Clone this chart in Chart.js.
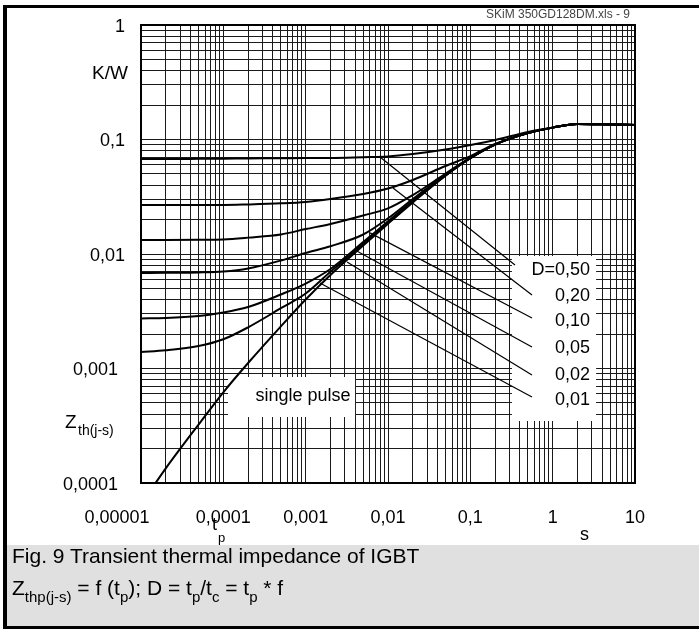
<!DOCTYPE html>
<html>
<head>
<meta charset="utf-8">
<script src="https://cdn.jsdelivr.net/npm/chart.js@4.4.0/dist/chart.umd.min.js"></script>
<style>
  html, body { margin: 0; padding: 0; background: #fff; }
  #wrap { position: relative; width: 699px; height: 629px; overflow: hidden;
          font-family: "Liberation Sans", Arial, sans-serif; }
  #chart { position: absolute; left: 0; top: 0; }
  .bar { position: absolute; background: #000; }
  #fileTag { position: absolute; right: 69px; top: 8px; font-size: 12px; color: #444; line-height: 12px; }
  #caption { position: absolute; left: 7px; top: 545px; width: 692px; height: 81px; background: #e0e0e0; }
  .cap { position: absolute; left: 5px; font-size: 21px; line-height: 21px; color: #000; white-space: nowrap; }
  .cap sub { font-size: 15px; vertical-align: -7px; line-height: 0; }
</style>
</head>
<body>
<div id="wrap">
  <canvas id="chart" width="699" height="545"></canvas>
  <div class="bar" style="left:3px;top:5px;width:696px;height:3px;"></div>
  <div class="bar" style="left:3px;top:5px;width:4px;height:624px;"></div>
  <div id="fileTag">SKiM 350GD128DM.xls - 9</div>
  <div id="caption">
    <div class="cap" style="top:0px;">Fig. 9 Transient thermal impedance of IGBT</div>
    <div class="cap" style="top:32px;">Z<sub>thp(j-s)</sub> = f (t<sub>p</sub>); D = t<sub>p</sub>/t<sub>c</sub> = t<sub>p</sub> * f</div>
  </div>
  <div class="bar" style="left:3px;top:626px;width:696px;height:3px;"></div>
</div>
<script>
// pulse duration tp (s)
const times = [1e-5, 2e-5, 5e-5, 1e-4, 2e-4, 5e-4, 1e-3, 2e-3, 5e-3, 0.01, 0.02, 0.05, 0.1, 0.2, 0.5, 1, 2, 5, 10];
const spTimes = [1.5e-5, 2e-5, 5e-5, 1e-4, 2e-4, 5e-4, 1e-3, 2e-3, 5e-3, 0.01, 0.02, 0.05, 0.1, 0.2, 0.5, 1, 2, 5, 10];

// Zth(j-s) in K/W
const zSingle = [1.0e-4, 1.344e-4, 3.24e-4, 6.2e-4, 1.117e-3, 2.336e-3, 4.005e-3, 6.556e-3, 0.01187, 0.01839, 0.02822, 0.04838, 0.06866, 0.09026, 0.1137, 0.127, 0.1366, 0.1352, 0.1338];
const zD001 = [0.00139, 0.00144, 0.00157, 0.00180, 0.00229, 0.00336, 0.00452, 0.0070, 0.0122, 0.0187, 0.0287, 0.0486, 0.0688, 0.0903, 0.1137, 0.127, 0.1366, 0.1352, 0.1338];
const zD002 = [0.00274, 0.00276, 0.00287, 0.00308, 0.00344, 0.00443, 0.00552, 0.0074, 0.0127, 0.0193, 0.0292, 0.0489, 0.0689, 0.0904, 0.1137, 0.127, 0.1366, 0.1352, 0.1338];
const zD005 = [0.00683, 0.00685, 0.0069, 0.00703, 0.00747, 0.00877, 0.0102, 0.0117, 0.0148, 0.0205, 0.0302, 0.0493, 0.0690, 0.0905, 0.1137, 0.127, 0.1366, 0.1352, 0.1338];
const zD010 = [0.01326, 0.01326, 0.0133, 0.0134, 0.0139, 0.0148, 0.0165, 0.0183, 0.0217, 0.0250, 0.0327, 0.0503, 0.0695, 0.0906, 0.1137, 0.127, 0.1366, 0.1352, 0.1338];
const zD020 = [0.0268, 0.0268, 0.0268, 0.0268, 0.0271, 0.0277, 0.0285, 0.0302, 0.0334, 0.0373, 0.0443, 0.0587, 0.0715, 0.0915, 0.1137, 0.127, 0.1366, 0.1352, 0.1338];
const zD050 = [0.0676, 0.0676, 0.0678, 0.0680, 0.0683, 0.0686, 0.0689, 0.0690, 0.0701, 0.0711, 0.0747, 0.0818, 0.0895, 0.0990, 0.1165, 0.1272, 0.1366, 0.1352, 0.1338];

// leader lines: [t start, Z start, t end, Z end]
const leaderLabels = ["D=0,50", "0,20", "0,10", "0,05", "0,02", "0,01"];
const leaderLines = [
  [0.008, 0.0703, 0.349, 0.00802],
  [0.0115, 0.0377, 0.561, 0.00439],
  [0.00604, 0.0153, 0.561, 0.00276],
  [0.00397, 0.01083, 0.561, 0.00154],
  [0.00318, 0.00851, 0.561, 0.000877],
  [0.00149, 0.00558, 0.561, 0.000564]
];

// axes
const xTickValues = [1e-5, 1e-4, 1e-3, 0.01, 0.1, 1, 10];
const xTickLabels = ["0,00001", "0,0001", "0,001", "0,01", "0,1", "1", "10"];
const yTickValues = [1, 0.1, 0.01, 0.001, 0.0001];
const yTickLabels = ["1", "0,1", "0,01", "0,001", "0,0001"];

function logGrid(lo, hi) {
  const out = [];
  for (let e = lo; e < hi; e++) {
    for (let m = 1; m < 10; m++) out.push(m * Math.pow(10, e));
  }
  out.push(Math.pow(10, hi));
  return out;
}

const FONT = '"Liberation Sans", Arial, sans-serif';

function pts(xs, ys) {
  return xs.map((t, i) => ({ x: t, y: ys[i] }));
}

function curve(ys, xs = times) {
  return {
    data: pts(xs, ys),
    borderColor: "#000",
    borderWidth: 2,
    pointRadius: 0,
    cubicInterpolationMode: "monotone",
    fill: false,
  };
}

const datasets = [
  curve(zSingle, spTimes),
  curve(zD001), curve(zD002), curve(zD005), curve(zD010), curve(zD020), curve(zD050),
];
leaderLines.forEach((l) => {
  datasets.push({
    data: [{ x: l[0], y: l[1] }, { x: l[2], y: l[3] }],
    borderColor: "#000",
    borderWidth: 1.2,
    pointRadius: 0,
    fill: false,
  });
});

// white label boxes, in data units: t from, t to, Z low, Z high
const boxes = [
  { x0: 1.14e-4, x1: 3.98e-3, y0: 3.77e-4, y1: 8.43e-4 },
  { x0: 0.32, x1: 3.37, y0: 3.48e-4, y1: 0.0096 },
];

const labelsPlugin = {
  id: "labels",
  beforeDatasetsDraw(chart) {
    const { ctx, scales: { x, y } } = chart;
    ctx.save();
    ctx.fillStyle = "#fff";
    boxes.forEach((b) => {
      const l = x.getPixelForValue(b.x0), r = x.getPixelForValue(b.x1);
      const t = y.getPixelForValue(b.y1), btm = y.getPixelForValue(b.y0);
      ctx.fillRect(l, t, r - l, btm - t);
    });
    ctx.restore();
  },
  afterDraw(chart) {
    const { ctx, chartArea: a, scales: { x, y } } = chart;
    ctx.save();
    // plot frame
    ctx.strokeStyle = "#000";
    ctx.lineWidth = 2;
    ctx.strokeRect(a.left, a.top, a.right - a.left, a.bottom - a.top);

    ctx.fillStyle = "#000";
    ctx.font = "18px " + FONT;
    ctx.textBaseline = "middle";

    // y ticks
    ctx.textAlign = "right";
    yTickValues.forEach((v, i) => {
      const off = v < 0.005 ? 23 : 16;
      ctx.fillText(yTickLabels[i], a.left - off, y.getPixelForValue(v) + 2);
    });
    ctx.font = "19px " + FONT;
    ctx.fillText("K/W", a.left - 13, 74);
    // Z th(j-s)
    ctx.textAlign = "left";
    ctx.fillText("Z", 65, 423);
    ctx.font = "14px " + FONT;
    ctx.fillText("th(j-s)", 78, 431);

    // x ticks
    ctx.font = "18px " + FONT;
    ctx.textAlign = "center";
    xTickValues.forEach((v, i) => {
      const off = i === 0 ? -24 : 0;
      ctx.fillText(xTickLabels[i], x.getPixelForValue(v) + off, 518);
    });
    ctx.textAlign = "left";
    ctx.fillText("t", 212, 525);
    ctx.font = "13px " + FONT;
    ctx.fillText("p", 218, 538);
    ctx.font = "18px " + FONT;
    ctx.fillText("s", 580, 535);

    // annotations
    ctx.textAlign = "center";
    ctx.fillText("single pulse", x.getPixelForValue(9.3e-4), 396);
    ctx.textAlign = "right";
    const ys = [270, 296.5, 321.5, 348.5, 375, 400];
    leaderLabels.forEach((s, i) => ctx.fillText(s, 590, ys[i]));
    ctx.restore();
  },
};

new Chart(document.getElementById("chart"), {
  type: "line",
  data: { datasets },
  options: {
    responsive: false,
    animation: false,
    devicePixelRatio: 1,
    layout: { padding: { left: 141, top: 25, right: 64, bottom: 62 } },
    plugins: { legend: { display: false }, tooltip: { enabled: false } },
    scales: {
      x: {
        type: "logarithmic",
        min: 1e-5,
        max: 10,
        afterBuildTicks: (s) => { s.ticks = logGrid(-5, 1).map((v) => ({ value: v })); },
        ticks: { display: false },
        grid: { color: "#1a1a1a", lineWidth: 1, drawTicks: false },
        border: { display: false },
      },
      y: {
        type: "logarithmic",
        min: 1e-4,
        max: 1,
        afterBuildTicks: (s) => { s.ticks = logGrid(-4, 0).map((v) => ({ value: v })); },
        ticks: { display: false },
        grid: { color: "#1a1a1a", lineWidth: 1, drawTicks: false },
        border: { display: false },
      },
    },
  },
  plugins: [labelsPlugin],
});
</script>
</body>
</html>
